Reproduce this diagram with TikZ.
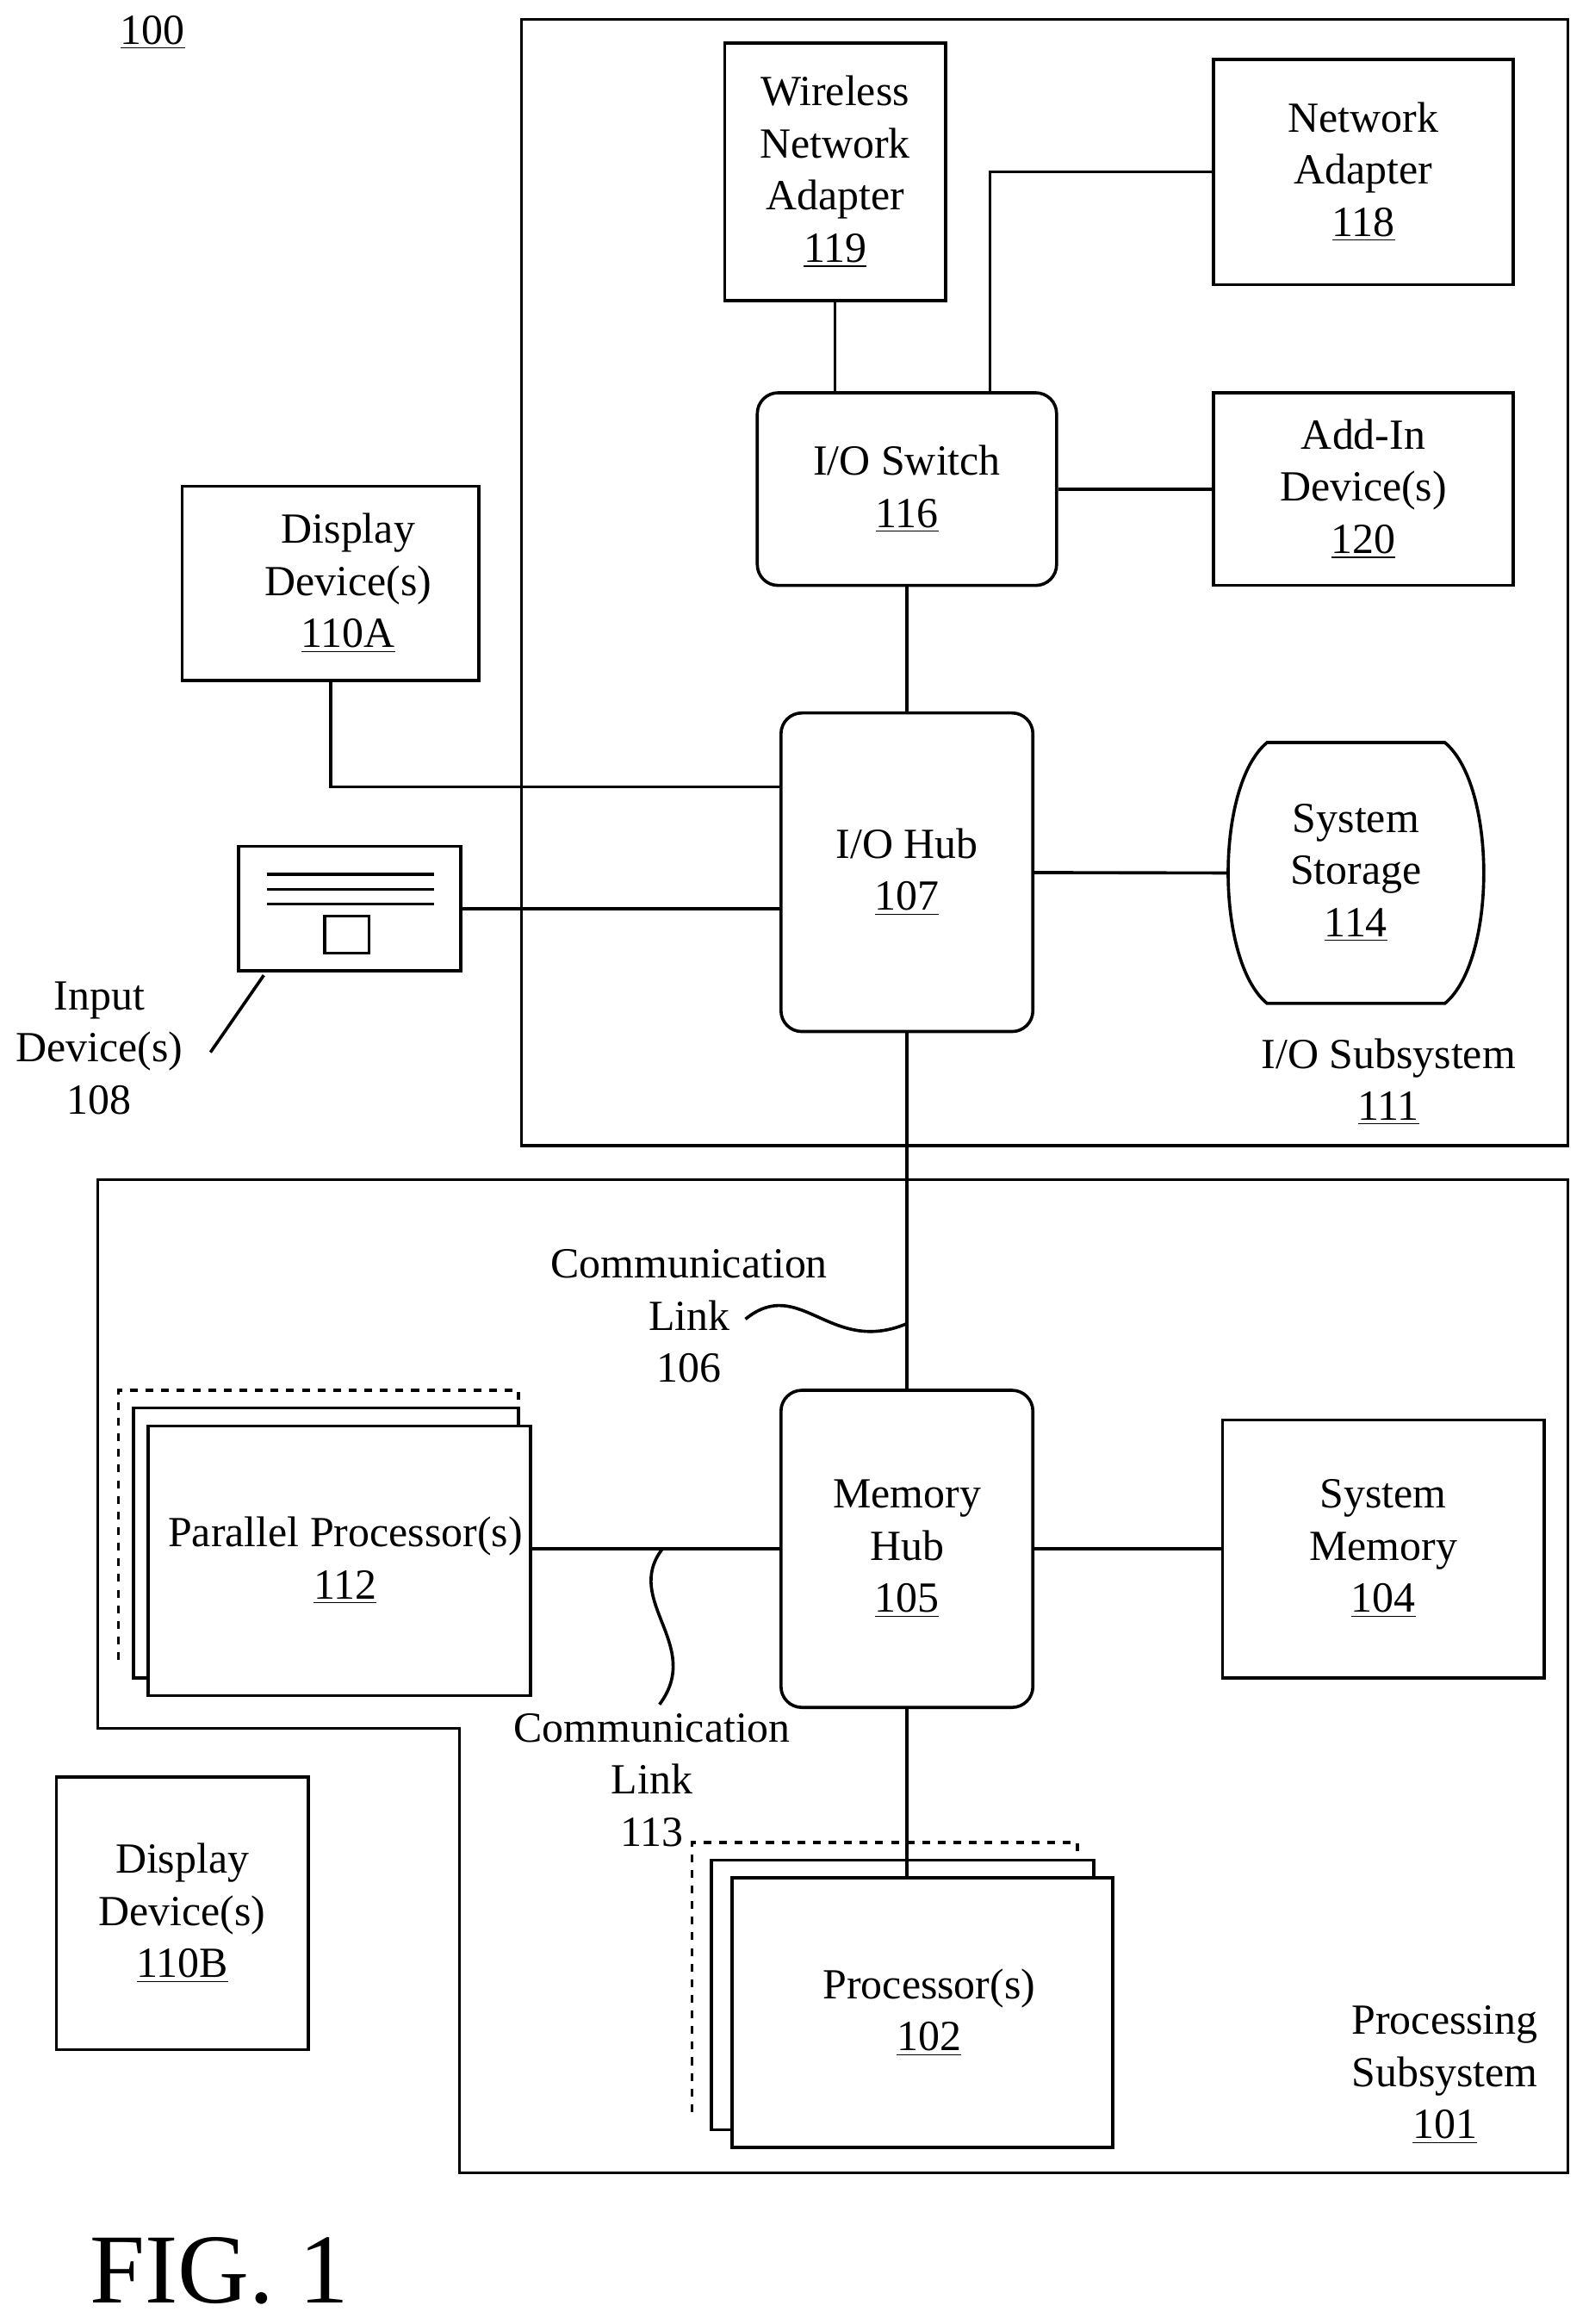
\documentclass[tikz,border=0pt]{standalone}
\usepackage{fontspec}
\setmainfont{Liberation Serif}
\newcommand{\refnum}[1]{\underline{#1}}
\begin{document}
\begin{tikzpicture}[
    x=0.02cm, y=-0.02cm,
    every node/.style={align=center, font=\fontsize{16.5}{20}\selectfont},
    block/.style={rectangle, draw=black, line width=1.2pt, inner sep=0pt},
    hub/.style={block, rounded corners=8pt},
    link/.style={line width=1.2pt}
]
    \useasboundingbox (0,0) rectangle (1072,1568);
    % Boxes
    \node at (103,22) {\refnum{100}};
    \draw[link] (352,13) rectangle (1058,773);
    \draw[link] (66,796) -- (1058,796) -- (1058,1466) -- (310,1466) -- (310,1166) -- (66,1166) -- cycle;
    \node[block, minimum width=2.98cm, minimum height=3.48cm] (wna) at (563.5,116) {Wireless\\Network\\Adapter\\\refnum{119}};
    \node[block, minimum width=4.04cm, minimum height=3.04cm] (na) at (920,116) {Network\\Adapter\\\refnum{118}};
    \node[hub, minimum width=4.04cm, minimum height=2.6cm] (switch) at (612,330) {I/O Switch\\\refnum{116}};
    \node[block, minimum width=4.04cm, minimum height=2.6cm] (addin) at (920,330) {Add-In\\Device(s)\\\refnum{120}};
    \node[block, minimum width=4cm, minimum height=2.62cm] (dispa) at (223,393.5) {};
    \node at (235,393.5) {Display\\Device(s)\\\refnum{110A}};
    \node[hub, minimum width=3.4cm, minimum height=4.3cm] (iohub) at (612,588.5) {I/O Hub\\\refnum{107}};
    \node[minimum width=3.4cm, minimum height=3.52cm, inner sep=0pt] (storage) at (915,589) {System\\Storage\\\refnum{114}};
    \draw[link] (855,501) -- (975,501) .. controls (1010,530) and (1010,648) .. (975,677) -- (855,677) .. controls (820,648) and (820,530) .. (855,501) -- cycle;
    \node[block, minimum width=3cm, minimum height=1.68cm] (input) at (236,613) {};
    \foreach \yy in {590,600,610} \draw[link] (180,\yy) -- (293,\yy);
    \draw[link] (219,618) rectangle (249,643);
    \node (inlabel) at (67,707) {Input\\Device(s)\\108};
    \draw[link] (142,710) -- (178,658);
    \node at (937,730) {I/O Subsystem\\\refnum{111}};
    \node[hub, minimum width=3.4cm, minimum height=4.28cm] (memhub) at (612,1045) {Memory\\Hub\\\refnum{105}};
    \node[block, minimum width=4.34cm, minimum height=3.48cm] (sysmem) at (933.5,1045) {System\\Memory\\\refnum{104}};
    \draw[link, dashed] (80,1120) -- (80,938) -- (350,938) -- (350,950);
    \draw[link, fill=white] (90,950) rectangle (350,1132);
    \node[block, fill=white, minimum width=5.16cm, minimum height=3.64cm] (par) at (229,1053) {};
    \node at (233,1053) {Parallel Processor(s)\\\refnum{112}};
    \draw[link, dashed] (467,1425) -- (467,1243) -- (727,1243) -- (727,1255);
    \draw[link, fill=white] (480,1255) rectangle (738,1437);
    \node[block, fill=white, minimum width=5.14cm, minimum height=3.64cm] (proc) at (622.5,1358) {};
    \node at (627,1358) {Processor(s)\\\refnum{102}};
    \node[block, minimum width=3.4cm, minimum height=3.68cm] (dispb) at (123,1291) {Display\\Device(s)\\\refnum{110B}};
    \node at (465,888) {Communication\\Link\\106};
    \node at (440,1201) {Communication\\Link\\113};
    \node at (975,1400) {Processing\\Subsystem\\\refnum{101}};
    \node[font=\fontsize{38}{44}\selectfont] at (148,1532) {FIG. 1};
    % Connectors
    \draw[link] (wna) -- (switch.north -| wna);
    \draw[link] (switch.north -| 668,0) |- (na.west);
    \draw[link] (switch) -- (addin);
    \draw[link] (switch) -- (iohub);
    \draw[link] (dispa.south) |- (iohub.west |- 0,531);
    \draw[link] (input.east) -- (iohub.west |- input.east);
    \draw[link] (iohub) -- (storage.west);
    \draw[link] (iohub) -- (memhub);
    \draw[link] (memhub.west) -- (par.east |- memhub.west);
    \draw[link] (memhub) -- (sysmem);
    \draw[link] (memhub.south) -- (proc.north -| memhub.south);
    % Squiggles
    \draw[link] (503,890) .. controls (540,860) and (560,915) .. (612,893);
    \draw[link] (447,1045) .. controls (420,1080) and (475,1110) .. (445,1150);
\end{tikzpicture}
\end{document}
